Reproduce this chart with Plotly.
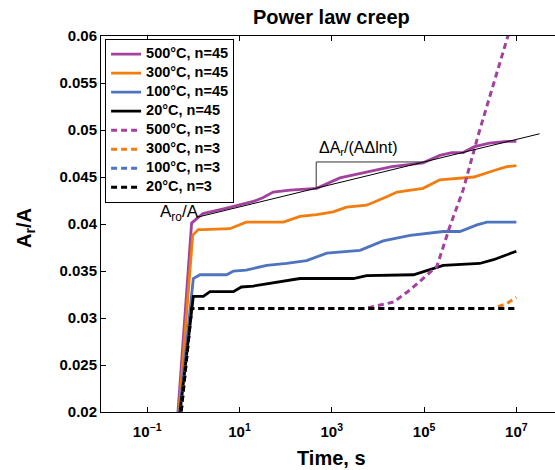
import plotly.graph_objects as go

# ---------------- data ----------------
t_500_45 = [0.45, 0.92, 1.28, 1.62, 5.3, 20, 32, 54, 125, 470, 1500, 8000, 2.0e4, 9.5e4,
            2.2e5, 4.0e5, 7.0e5, 1.2e6, 2.6e6, 6.2e6, 1.0e7]
v_500_45 = [0.0190, 0.0401, 0.0407, 0.0411, 0.0417, 0.0424, 0.0428, 0.0434, 0.0436, 0.0438,
            0.0449, 0.0457, 0.0461, 0.0465, 0.0473, 0.0476, 0.0476, 0.0482, 0.0486, 0.0488, 0.0488]

t_300_45 = [0.47, 0.97, 1.28, 1.65, 6.2, 14, 90, 205, 470, 1070, 2100, 5700, 1.55e4, 2.6e4,
            9.5e4, 2.2e5, 1.2e6, 2.7e6, 4.5e6, 6.2e6, 1.0e7]
v_300_45 = [0.0190, 0.0388, 0.0394, 0.0394, 0.0395, 0.0402, 0.0402, 0.0408, 0.0410, 0.0413,
            0.0418, 0.0420, 0.0429, 0.0434, 0.0438, 0.0447, 0.0450, 0.0456, 0.0459, 0.0461, 0.0462]

t_100_45 = [0.48, 1.0, 1.4, 5.3, 7.4, 14, 39, 105, 285, 780, 4100, 1.3e4, 5.0e4, 2.6e5,
            6.0e5, 1.4e6, 2.3e6, 1.0e7]
v_100_45 = [0.0190, 0.0342, 0.0346, 0.0346, 0.0350, 0.0351, 0.0356, 0.0358, 0.0361, 0.0369,
            0.0372, 0.0382, 0.0388, 0.0392, 0.0392, 0.0399, 0.0402, 0.0402]

t_20_45 = [0.49, 1.0, 1.65, 2.3, 7.4, 11, 20, 46, 205, 2950, 5700, 5.9e4, 2.6e5, 1.6e6,
           3.2e6, 1.0e7]
v_20_45 = [0.0190, 0.0323, 0.0323, 0.0328, 0.0328, 0.0333, 0.0334, 0.0337, 0.0342, 0.0342,
           0.0345, 0.0346, 0.0356, 0.0358, 0.0362, 0.0371]

t_500_3 = [0.52, 0.92, 5000, 8000, 2.2e4, 5.0e4, 9.5e4, 1.9e5, 3.6e5, 7.0e5, 1.5e6, 6.3e6, 1.0e7]
v_500_3 = [0.0190, 0.0310, 0.0310, 0.0312, 0.0317, 0.0330, 0.0342, 0.0355, 0.0397, 0.0436,
           0.0495, 0.0600, 0.0630]

t_300_3 = [0.52, 0.92, 3.0e6, 6.0e6, 1.0e7]
v_300_3 = [0.0190, 0.0310, 0.0310, 0.0315, 0.0322]

t_100_3 = [0.52, 0.92, 1.0e7]
v_100_3 = [0.0190, 0.0310, 0.0310]

t_20_3 = [0.52, 0.92, 1.0e7]
v_20_3 = [0.0190, 0.0310, 0.0310]

# fitted power-law line and slope triangle
t_fit = [1.17, 3.2e7]
v_fit = [0.0407, 0.0496]
t_tri = [460, 460, 1.05e5]
v_tri = [0.0437, 0.0466, 0.0466]

labels = ["500°C, n=45", "300°C, n=45", "100°C, n=45", "20°C, n=45",
          "500°C, n=3", "300°C, n=3", "100°C, n=3", "20°C, n=3"]
colors = ["#a2429e", "#f27c0e", "#4f74bf", "#000000"]

x_tickvals = [1e-1, 1e1, 1e3, 1e5, 1e7]
x_ticktext = ["10<sup>−1</sup>", "10<sup>1</sup>", "10<sup>3</sup>", "10<sup>5</sup>", "10<sup>7</sup>"]
y_tickvals = [0.02, 0.025, 0.03, 0.035, 0.04, 0.045, 0.05, 0.055, 0.06]
y_ticktext = ["0.02", "0.025", "0.03", "0.035", "0.04", "0.045", "0.05", "0.055", "0.06"]

FONT = "Liberation Sans, Arial, Helvetica, sans-serif"

fig = go.Figure()
series = [(t_500_45, v_500_45), (t_300_45, v_300_45), (t_100_45, v_100_45), (t_20_45, v_20_45),
          (t_500_3, v_500_3), (t_300_3, v_300_3), (t_100_3, v_100_3), (t_20_3, v_20_3)]
for i, (t, v) in enumerate(series):
    dashed = i >= 4
    fig.add_trace(go.Scatter(
        x=t, y=v, mode="lines",
        name='<span style="font-size:14.5px">' + labels[i] + '</span>',
        line=dict(color=colors[i % 4], width=3 if dashed else 2.8,
                  dash="6px,4px" if dashed else "solid"),
    ))

fig.add_trace(go.Scatter(x=t_fit, y=v_fit, mode="lines", showlegend=False,
                         line=dict(color="#000000", width=1)))
fig.add_trace(go.Scatter(x=t_tri, y=v_tri, mode="lines", showlegend=False,
                         line=dict(color="#333333", width=1)))

W, H = 555, 470
L, R, T, B = 101, 0, 36, 58

fig.update_layout(
    width=W, height=H,
    margin=dict(l=L, r=R, t=T, b=B),
    paper_bgcolor="white", plot_bgcolor="white",
    font=dict(family=FONT, color="black"),
    showlegend=True,
    legend=dict(
        x=0.009, y=0.993, xanchor="left", yanchor="top",
        bgcolor="white", bordercolor="black", borderwidth=1,
        font=dict(family=FONT, size=10.5, weight="bold", color="black"),
        tracegroupgap=0,
    ),
    xaxis=dict(
        type="log", range=[-2, 7.837],
        tickvals=x_tickvals, ticktext=x_ticktext,
        ticks="inside", ticklen=5, tickwidth=1, tickcolor="black",
        showline=True, linecolor="black", linewidth=1.4, mirror="ticks",
        showgrid=False, zeroline=False, ticklabelstandoff=6,
        tickfont=dict(family=FONT, size=15, weight="bold", color="black"),
    ),
    yaxis=dict(
        range=[0.02, 0.06],
        tickvals=y_tickvals, ticktext=y_ticktext,
        ticks="inside", ticklen=5, tickwidth=1, tickcolor="black",
        showline=True, linecolor="black", linewidth=1,
        showgrid=False, zeroline=False,
        tickfont=dict(family=FONT, size=15, weight="bold", color="black"),
    ),
)

pw = W - L - R
ph = H - T - B

def px_x(x):
    return (x - L) / pw

def px_y(y):
    return (H - B - y) / ph

fig.add_annotation(text="Power law creep", xref="paper", yref="paper",
                   x=px_x(331), y=px_y(17), xanchor="center", yanchor="middle",
                   showarrow=False, font=dict(family=FONT, size=20, weight="bold"))
fig.add_annotation(text="Time, s", xref="paper", yref="paper",
                   x=px_x(331), y=px_y(458), xanchor="center", yanchor="middle",
                   showarrow=False, font=dict(family=FONT, size=20, weight="bold"))
fig.add_annotation(text="A<sub>r</sub>/A", xref="paper", yref="paper",
                   x=px_x(25), y=px_y(228), xanchor="center", yanchor="middle",
                   textangle=-90, showarrow=False,
                   font=dict(family=FONT, size=20, weight="bold"))
fig.add_annotation(text="ΔA<sub>r</sub>/(AΔlnt)", xref="x", yref="y",
                   x=3.57, y=0.0480, xanchor="center", yanchor="middle",
                   showarrow=False, font=dict(family=FONT, size=16))
fig.add_annotation(text="A<sub>ro</sub>/A", xref="x", yref="y",
                   x=-0.29, y=0.0412, xanchor="center", yanchor="middle",
                   showarrow=False, font=dict(family=FONT, size=17))

fig.write_html("out.html")
